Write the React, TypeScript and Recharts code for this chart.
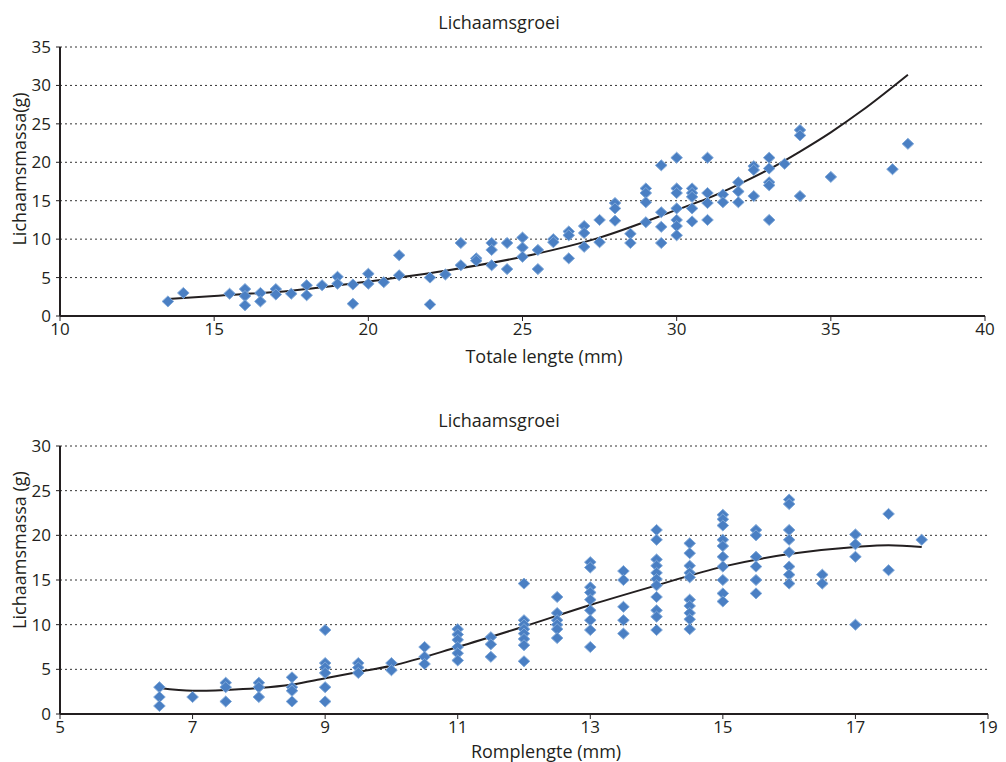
import React from 'react'
import { ComposedChart, Scatter, Line, XAxis, YAxis, CartesianGrid } from 'recharts'

// Top chart: total length (mm) vs body mass (g)
const topPoints: [number, number][] = [
  [13.5, 1.9], [14, 3], [15.5, 2.9],
  [16, 3.5], [16, 2.6], [16, 1.4], [16.5, 3], [16.5, 1.9],
  [17, 3.5], [17, 2.8], [17.5, 2.9], [18, 4], [18, 2.7], [18.5, 4],
  [19, 5.1], [19, 4.2], [19.5, 4.1], [19.5, 1.6], [20, 5.5], [20, 4.2],
  [20.5, 4.4], [21, 7.9], [21, 5.3], [22, 5], [22, 1.5], [22.5, 5.4],
  [23, 9.5], [23, 6.6], [23.5, 7.5], [23.5, 7.2],
  [24, 9.5], [24, 8.6], [24, 6.6], [24.5, 9.5], [24.5, 6.1],
  [25, 10.2], [25, 8.9], [25, 7.7], [25.5, 8.6], [25.5, 6.1],
  [26, 10], [26, 9.6], [26.5, 11], [26.5, 10.5], [26.5, 7.5],
  [27, 11.7], [27, 10.8], [27, 9], [27.5, 12.5], [27.5, 9.6],
  [28, 14.7], [28, 14], [28, 12.4], [28.5, 10.7], [28.5, 9.5],
  [29, 16.6], [29, 16], [29, 14.8], [29, 12.2],
  [29.5, 19.6], [29.5, 13.5], [29.5, 11.6], [29.5, 9.5],
  [30, 20.6], [30, 16.6], [30, 16], [30, 14], [30, 12.5], [30, 11.7], [30, 10.5],
  [30.5, 16.6], [30.5, 16], [30.5, 15.5], [30.5, 14], [30.5, 12.3],
  [31, 20.6], [31, 16], [31, 14.7], [31, 12.5], [31.5, 15.8], [31.5, 14.8],
  [32, 17.4], [32, 16.2], [32, 14.8], [32.5, 19.5], [32.5, 19], [32.5, 15.6],
  [33, 20.6], [33, 19.2], [33, 17.4], [33, 17], [33, 12.5], [33.5, 19.8],
  [34, 24.2], [34, 23.5], [34, 15.6], [35, 18.1], [37, 19.1], [37.5, 22.4],
]

const topTrend: [number, number][] = [
  [13.5, 2.2], [15, 2.6], [17.5, 3.3], [20, 4.5], [22.5, 5.9], [25, 7.7],
  [27.5, 10.2], [30, 13.8], [31, 15.3], [32, 17.1], [33, 19.1], [34, 21.4],
  [35, 23.9], [36, 26.7], [37.5, 31.4],
]

// Bottom chart: trunk length (mm) vs body mass (g)
const bottomPoints: [number, number][] = [
  [6.5, 3], [6.5, 1.9], [6.5, 0.9], [7, 1.9],
  [7.5, 3.5], [7.5, 3], [7.5, 1.4], [8, 3.5], [8, 3], [8, 1.9],
  [8.5, 4.1], [8.5, 3], [8.5, 2.6], [8.5, 1.4],
  [9, 9.4], [9, 5.7], [9, 5.2], [9, 4.6], [9, 3], [9, 1.4],
  [9.5, 5.7], [9.5, 5.2], [9.5, 4.6], [10, 5.7], [10, 4.9],
  [10.5, 7.5], [10.5, 6.4], [10.5, 5.6],
  [11, 9.5], [11, 8.9], [11, 8.3], [11, 7.5], [11, 6.8], [11, 6],
  [11.5, 8.6], [11.5, 7.8], [11.5, 6.4],
  [12, 14.6], [12, 10.5], [12, 10], [12, 9.5], [12, 9], [12, 8.4], [12, 7.7], [12, 5.9],
  [12.5, 13.1], [12.5, 11.3], [12.5, 10.5], [12.5, 10], [12.5, 9.5], [12.5, 8.5],
  [13, 17], [13, 16.4], [13, 14.2], [13, 13.6], [13, 12.8], [13, 11.6], [13, 10.5], [13, 9.4], [13, 7.5],
  [13.5, 16], [13.5, 15], [13.5, 12], [13.5, 10.5], [13.5, 9],
  [14, 20.6], [14, 19.5], [14, 17.3], [14, 16.6], [14, 15.8], [14, 15.1], [14, 14.4],
  [14, 13.1], [14, 11.6], [14, 10.9], [14, 9.4],
  [14.5, 19.1], [14.5, 18], [14.5, 16.6], [14.5, 15.8], [14.5, 15.3], [14.5, 12.8],
  [14.5, 12.1], [14.5, 11.3], [14.5, 10.6], [14.5, 9.5],
  [15, 22.3], [15, 21.8], [15, 21.1], [15, 19.5], [15, 18.8], [15, 17.6], [15, 16.5],
  [15, 15], [15, 13.5], [15, 12.6],
  [15.5, 20.6], [15.5, 20], [15.5, 17.6], [15.5, 16.5], [15.5, 15], [15.5, 13.5],
  [16, 24], [16, 23.5], [16, 20.6], [16, 19.5], [16, 18.1], [16, 16.5], [16, 15.6], [16, 14.6],
  [16.5, 15.6], [16.5, 14.6],
  [17, 20.1], [17, 19], [17, 17.6], [17, 10], [17.5, 22.4], [17.5, 16.1], [18, 19.5],
]

const bottomTrend: [number, number][] = [
  [6.5, 2.9], [7, 2.6], [7.5, 2.7], [8, 2.9], [8.5, 3.3], [9, 4], [9.5, 4.7],
  [10, 5.4], [11, 7.5], [12, 9.8], [13, 12.2], [14, 14.4], [15, 16.5],
  [16, 17.9], [17, 18.7], [17.5, 18.9], [18, 18.7],
]

const topXTicks = [10, 15, 20, 25, 30, 35, 40]
const topYTicks = [0, 5, 10, 15, 20, 25, 30, 35]
const bottomXTicks = [5, 7, 9, 11, 13, 15, 17, 19]
const bottomYTicks = [0, 5, 10, 15, 20, 25, 30]

const toRows = (pairs: [number, number][]) => pairs.map(([x, y]) => ({ x, y }))

const ink = '#231f20'
const tickStyle = { fill: ink, fontSize: 17, fontFamily: '"Open Sans", sans-serif' }

const Diamond = (props: any) => {
  const { cx, cy } = props
  if (cx == null || cy == null) return null
  const w = 5.8
  const h = 5.5
  return (
    <polygon
      points={`${cx},${cy - h} ${cx + w},${cy} ${cx},${cy + h} ${cx - w},${cy}`}
      fill="#4a7fc3"
      stroke="#7fa8d9"
      strokeWidth={1}
      strokeLinejoin="round"
    />
  )
}

interface PanelProps {
  top: number
  height: number
  margin: { top: number; right: number; bottom: number; left: number }
  points: [number, number][]
  trend: [number, number][]
  xTicks: number[]
  yTicks: number[]
}

function Panel({ top, height, margin, points, trend, xTicks, yTicks }: PanelProps) {
  return (
    <div style={{ position: 'absolute', left: 0, top }}>
      <ComposedChart width={1006} height={height} margin={margin}>
        <CartesianGrid vertical={false} stroke="#333" strokeDasharray="2 3" />
        <XAxis
          type="number"
          dataKey="x"
          domain={[xTicks[0], xTicks[xTicks.length - 1]]}
          ticks={xTicks}
          allowDataOverflow
          height={30}
          tick={tickStyle}
          tickSize={5}
          tickMargin={2}
          axisLine={{ stroke: ink, strokeWidth: 2 }}
          tickLine={{ stroke: ink }}
        />
        <YAxis
          type="number"
          dataKey="y"
          domain={[yTicks[0], yTicks[yTicks.length - 1]]}
          ticks={yTicks}
          width={40}
          tick={tickStyle}
          tickSize={4}
          tickMargin={5}
          axisLine={{ stroke: ink, strokeWidth: 2 }}
          tickLine={{ stroke: ink }}
        />
        <Scatter data={toRows(points)} dataKey="y" shape={Diamond} isAnimationActive={false} />
        <Line
          data={toRows(trend)}
          dataKey="y"
          type="monotone"
          stroke={ink}
          strokeWidth={2}
          dot={false}
          activeDot={false}
          isAnimationActive={false}
        />
      </ComposedChart>
    </div>
  )
}

const textBase: React.CSSProperties = {
  position: 'absolute',
  whiteSpace: 'nowrap',
  fontSize: 18,
  lineHeight: '20px',
  color: ink,
}

export default function App() {
  return (
    <div
      style={{
        position: 'absolute',
        left: 0,
        top: 0,
        width: 1006,
        height: 762,
        background: '#fff',
        fontFamily: '"Open Sans", sans-serif',
      }}
    >
      <Panel
        top={0}
        height={380}
        margin={{ top: 47, right: 21, bottom: 34, left: 20 }}
        points={topPoints}
        trend={topTrend}
        xTicks={topXTicks}
        yTicks={topYTicks}
      />
      <Panel
        top={400}
        height={362}
        margin={{ top: 46, right: 18, bottom: 18, left: 20 }}
        points={bottomPoints}
        trend={bottomTrend}
        xTicks={bottomXTicks}
        yTicks={bottomYTicks}
      />

      {/* titles and axis labels */}
      <div style={{ ...textBase, left: 499, top: 12, transform: 'translateX(-50%)' }}>Lichaamsgroei</div>
      <div style={{ ...textBase, left: 544, top: 346, transform: 'translateX(-50%)' }}>Totale lengte (mm)</div>
      <div style={{ ...textBase, left: 19, top: 169, transform: 'translate(-50%, -50%) rotate(-90deg)' }}>
        Lichaamsmassa(g)
      </div>

      <div style={{ ...textBase, left: 499, top: 410, transform: 'translateX(-50%)' }}>Lichaamsgroei</div>
      <div style={{ ...textBase, left: 546, top: 741, transform: 'translateX(-50%)' }}>Romplengte (mm)</div>
      <div style={{ ...textBase, left: 19, top: 550, transform: 'translate(-50%, -50%) rotate(-90deg)' }}>
        Lichaamsmassa (g)
      </div>
    </div>
  )
}
